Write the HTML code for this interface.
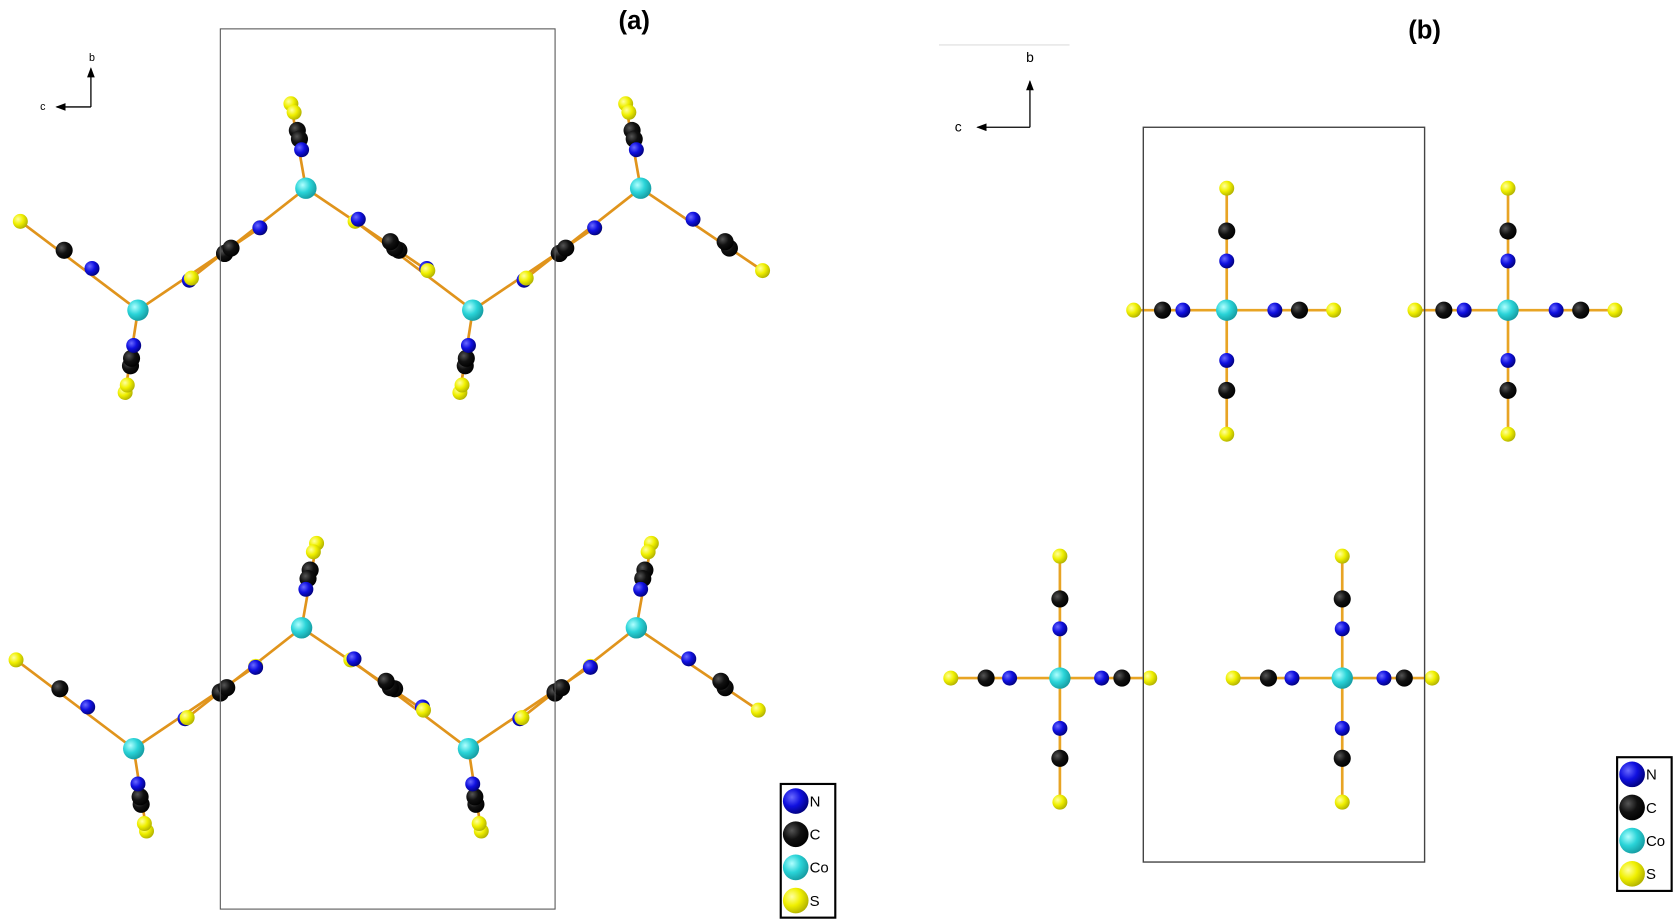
<!DOCTYPE html>
<html><head><meta charset="utf-8">
<style>
html,body{margin:0;padding:0;background:#fff;width:1677px;height:923px;overflow:hidden}
svg{display:block}
text{font-family:"Liberation Sans",sans-serif}
</style></head>
<body>
<svg id="fig" width="1677" height="923" viewBox="0 0 1568 863" preserveAspectRatio="none" xmlns="http://www.w3.org/2000/svg">
<defs>
<radialGradient id="gN" cx="0.35" cy="0.35" r="0.7"><stop offset="0" stop-color="#6a6aff"/><stop offset="0.5" stop-color="#1010e0"/><stop offset="1" stop-color="#00007a"/></radialGradient>
<radialGradient id="gC" cx="0.35" cy="0.35" r="0.7"><stop offset="0" stop-color="#555"/><stop offset="0.5" stop-color="#111"/><stop offset="1" stop-color="#000"/></radialGradient>
<radialGradient id="gCo" cx="0.35" cy="0.35" r="0.7"><stop offset="0" stop-color="#b0ffff"/><stop offset="0.5" stop-color="#2ad4d8"/><stop offset="1" stop-color="#159aa0"/></radialGradient>
<radialGradient id="gS" cx="0.35" cy="0.35" r="0.7"><stop offset="0" stop-color="#ffffa0"/><stop offset="0.5" stop-color="#f0f000"/><stop offset="1" stop-color="#b0b000"/></radialGradient>
<marker id="arr" markerWidth="8" markerHeight="6" refX="7" refY="3" orient="auto"><path d="M0,0 L8,3 L0,6 z" fill="#000"/></marker>
</defs>
<g id="layer-bonds"></g>
<g id="layer-atoms"></g>

<rect x="206" y="27" width="313" height="823" fill="none" stroke="#555" stroke-width="1"/>
<rect x="1069" y="119" width="263" height="687" fill="none" stroke="#444" stroke-width="1.3"/>

<text x="593" y="27" font-size="24" font-weight="bold" text-anchor="middle">(a)</text>
<text x="1332" y="36" font-size="24" font-weight="bold" text-anchor="middle">(b)</text>

<g>
<line x1="85" y1="100" x2="85" y2="64" stroke="#000" stroke-width="1.2" marker-end="url(#arr)"/>
<line x1="85" y1="100" x2="53" y2="100" stroke="#000" stroke-width="1.2" marker-end="url(#arr)"/>
<text x="86" y="57" font-size="10" text-anchor="middle">b</text>
<text x="40" y="103" font-size="10" text-anchor="middle">c</text>
</g>
<g>
<line x1="878" y1="42" x2="1000" y2="42" stroke="#ddd" stroke-width="1"/>
<line x1="963" y1="119" x2="963" y2="76" stroke="#000" stroke-width="1.2" marker-end="url(#arr)"/>
<line x1="963" y1="119" x2="914" y2="119" stroke="#000" stroke-width="1.2" marker-end="url(#arr)"/>
<text x="963" y="58" font-size="13" text-anchor="middle">b</text>
<text x="896" y="123" font-size="13" text-anchor="middle">c</text>
</g>

<g id="legend-a"></g>
<g id="legend-b"></g>
</svg>
<script>
const elements = ['N','C','Co','S'];
const fills = {N:'url(#gN)',C:'url(#gC)',Co:'url(#gCo)',S:'url(#gS)'};
const radii = {N:7,C:8,Co:10,S:7};
// panel (a) Co centres [x, y, verticalArmTilt(+1/-1)]
const coUpA = [[286,176,1],[599,176,1],[282,587,-1],[595,587,-1]];
const coDownA = [[129,290,1],[442,290,1],[125,700,-1],[438,700,-1]];
// arms: [type, dx, dy, tiltable]
const armsUp = [
  [['N',-4,-36,1],['C',-6,-46,1],['C',-8,-54,1],['S',-11,-71,1],['S',-14,-79,1]],
  [['N',49,29,0],['C',79,50,0],['C',83,56,0],['S',114,77,0]],
  [['N',-43,37,0],['C',-70,56,0],['C',-76,61,0],['S',-107,84,0]]
];
const armsDown = [
  [['N',-43,-39,0],['C',-69,-56,0],['S',-110,-83,0]],
  [['N',48,-28,0],['C',81,-53,0],['S',114,-77,0]],
  [['N',-4,33,1],['C',-6,45,1],['C',-7,52,1],['S',-10,70,1],['S',-12,77,1]]
];
// panel (b) Co centres [x, y, horizontalMirror]
const coB = [[1147,290,1],[1410,290,1],[991,634,-1],[1255,634,-1]];
const armsB = [
  [['N',0,-46,0],['C',0,-74,0],['S',0,-114,0]],
  [['N',0,47,0],['C',0,75,0],['S',0,116,0]],
  [['N',-41,0,1],['C',-60,0,1],['S',-87,0,1]],
  [['N',45,0,1],['C',68,0,1],['S',100,0,1]]
];
const NS='http://www.w3.org/2000/svg';
const gB=document.getElementById('layer-bonds'), gA=document.getElementById('layer-atoms');
function atom(t,x,y){
  const c=document.createElementNS(NS,'circle');
  
  
  c.setAttribute('cx',x);c.setAttribute('cy',y);c.setAttribute('r',radii[t]);c.setAttribute('fill',fills[t]);
  gA.appendChild(c);
}
function bond(x1,y1,x2,y2,col){
  const l=document.createElementNS(NS,'line');
  
  
  l.setAttribute('x1',x1);l.setAttribute('y1',y1);l.setAttribute('x2',x2);l.setAttribute('y2',y2);
  l.setAttribute('stroke',col);l.setAttribute('stroke-width','2.5');
  gB.appendChild(l);
}
function pos(co,a,mode){
  if(mode==='a'){ return [co[0]+(a[3]?a[1]*co[2]:a[1]), co[1]+a[2]]; }
  // panel b mirror horizontal arms: left/right swap lengths
  if(a[3] && co[2]<0){ const L={'-41':39,'-60':58,'-87':84,'45':-47,'68':-69,'100':-102}; return [co[0]+L[a[1]], co[1]]; }
  return [co[0]+a[1], co[1]+a[2]];
}
function unit(co,arms,mode,col){
  arms.forEach(arm=>{
    const last=pos(co,arm[arm.length-1],mode);
    bond(co[0],co[1],last[0],last[1],col);
  });
  arms.forEach(arm=>{
    arm.slice().reverse().forEach(a=>{const p=pos(co,a,mode);atom(a[0],p[0],p[1]);});
  });
  atom('Co',co[0],co[1]);
}
coDownA.forEach(c=>unit(c,armsDown,'a','#e0941c'));
coUpA.forEach(c=>unit(c,armsUp,'a','#e0941c'));
coB.forEach(c=>unit(c,armsB,'b','#e8a424'));
function legend(id,x,y){
  const g=document.getElementById(id);
  const r=document.createElementNS(NS,'rect');
  
  
  r.setAttribute('x',x);r.setAttribute('y',y);r.setAttribute('width',51);r.setAttribute('height',125);
  r.setAttribute('fill','#fff');r.setAttribute('stroke','#000');r.setAttribute('stroke-width','2');
  g.appendChild(r);
  elements.forEach((e,i)=>{
    const cy=y+16+i*31;
    const c=document.createElementNS(NS,'circle');
    
    
    c.setAttribute('cx',x+14);c.setAttribute('cy',cy);c.setAttribute('r',12);c.setAttribute('fill',fills[e]);
    g.appendChild(c);
    const t=document.createElementNS(NS,'text');
    
    
    t.setAttribute('x',x+27);t.setAttribute('y',cy+5);t.setAttribute('font-size','14');
    t.textContent=e;
    g.appendChild(t);
  });
}
legend('legend-a',730,733);
legend('legend-b',1512,708);
</script>
</body></html>
